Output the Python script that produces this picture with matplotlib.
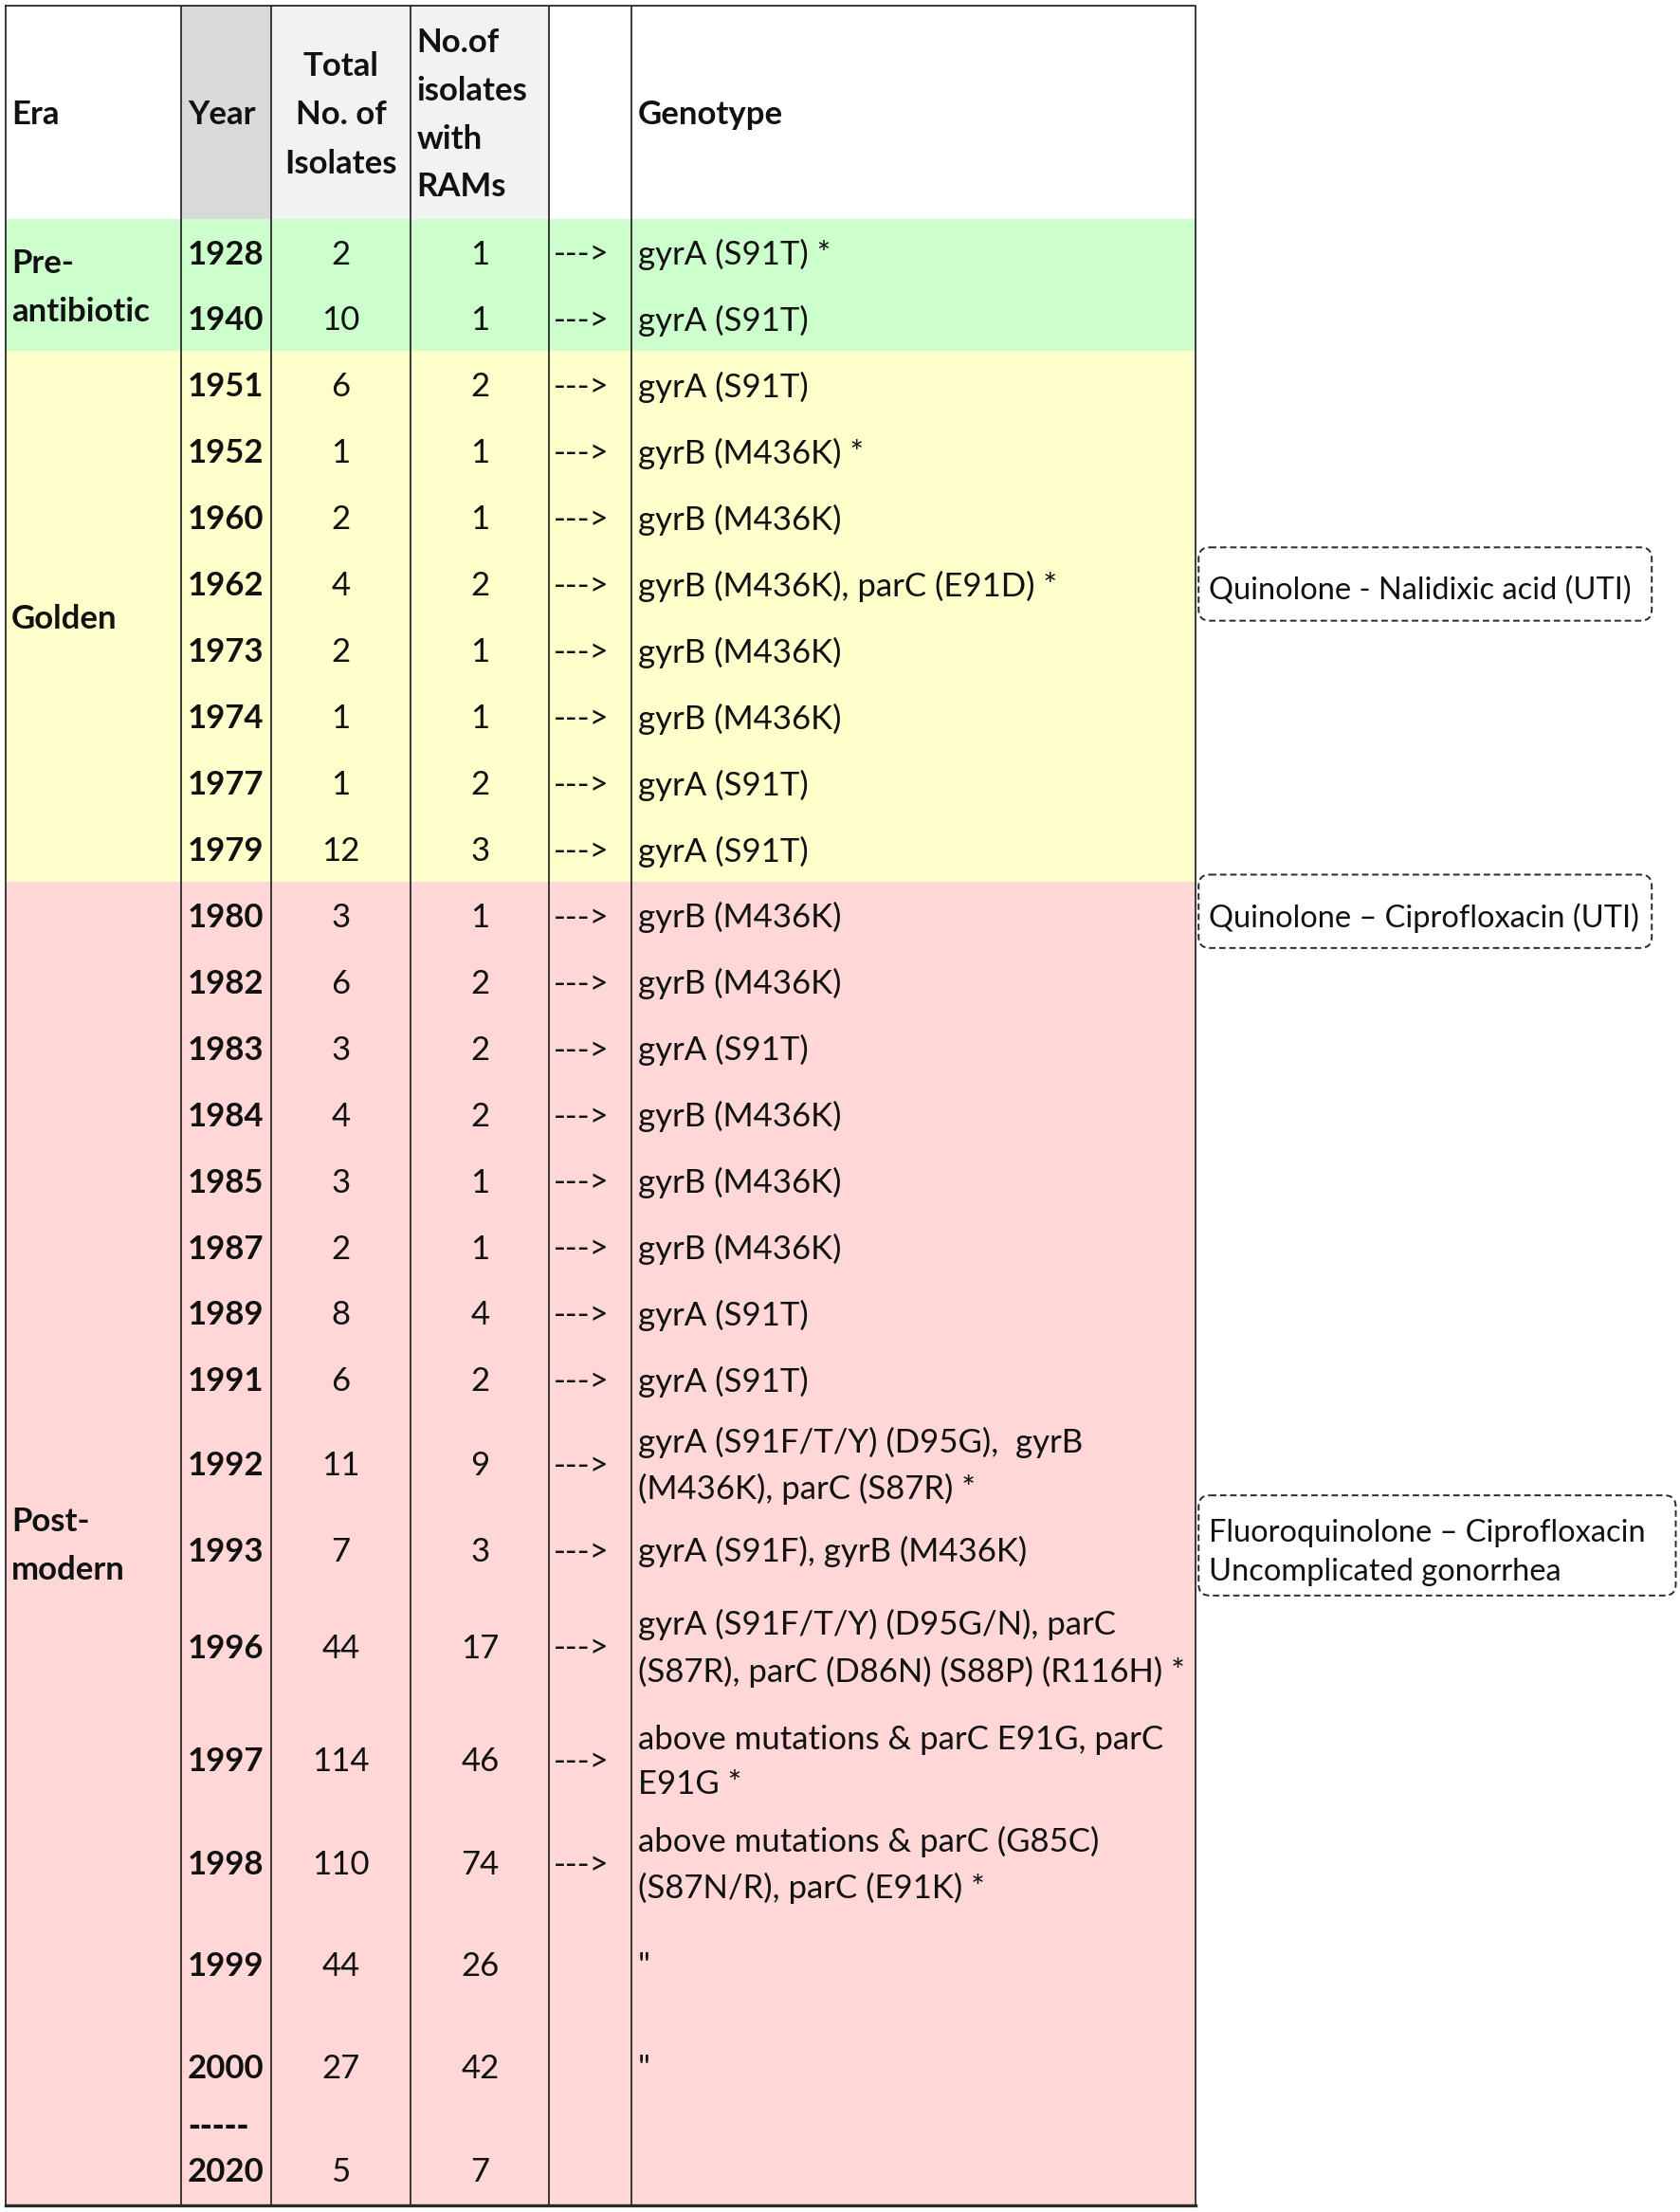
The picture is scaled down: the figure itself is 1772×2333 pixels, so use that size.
import matplotlib
matplotlib.use("Agg")
import matplotlib.pyplot as plt
from matplotlib.patches import Rectangle, FancyBboxPatch

plt.rcParams['font.family'] = ['Lato', 'DejaVu Sans']

# ---------------- data ----------------
era_names = ["Pre-\nantibiotic", "Golden", "Post-\nmodern"]
era_sizes = [2, 8, 16]
era_colors = ["#CCFFCC", "#FFFFCC", "#FFD7D7"]

years = ["1928", "1940", "1951", "1952", "1960", "1962", "1973", "1974", "1977", "1979",
         "1980", "1982", "1983", "1984", "1985", "1987", "1989", "1991", "1992", "1993",
         "1996", "1997", "1998", "1999", "2000", "-----\n2020"]
total_isolates = [2, 10, 6, 1, 2, 4, 2, 1, 1, 12,
                  3, 6, 3, 4, 3, 2, 8, 6, 11, 7,
                  44, 114, 110, 44, 27, 5]
isolates_rams = [1, 1, 2, 1, 1, 2, 1, 1, 2, 3,
                 1, 2, 2, 2, 1, 1, 4, 2, 9, 3,
                 17, 46, 74, 26, 42, 7]
has_arrow = [True] * 23 + [False] * 3
genotypes = [
    "gyrA (S91T) *", "gyrA (S91T)", "gyrA (S91T)", "gyrB (M436K) *", "gyrB (M436K)",
    "gyrB (M436K), parC (E91D) *", "gyrB (M436K)", "gyrB (M436K)", "gyrA (S91T)", "gyrA (S91T)",
    "gyrB (M436K)", "gyrB (M436K)", "gyrA (S91T)", "gyrB (M436K)", "gyrB (M436K)",
    "gyrB (M436K)", "gyrA (S91T)", "gyrA (S91T)",
    "gyrA (S91F/T/Y) (D95G),  gyrB\n(M436K), parC (S87R) *",
    "gyrA (S91F), gyrB (M436K)",
    "gyrA (S91F/T/Y) (D95G/N), parC\n(S87R), parC (D86N) (S88P) (R116H) *",
    "above mutations & parC E91G, parC\nE91G *",
    "above mutations & parC (G85C)\n(S87N/R), parC (E91K) *",
    "\"", "\"", "",
]
headers = ["Era", "Year", "Total\nNo. of\nIsolates", "No.of\nisolates\nwith\nRAMs", "", "Genotype"]
notes = ["Quinolone - Nalidixic acid (UTI)",
         "Quinolone \u2013 Ciprofloxacin (UTI)",
         "Fluoroquinolone \u2013 Ciprofloxacin\nUncomplicated gonorrhea"]

# ---------------- layout (display units, 1190 x 1568 canvas) ----------------
W, H = 1190, 1568
col_x = [4, 128, 192, 291, 389, 447, 847]
top, header_bottom = 4, 155
row_heights = [47] * 18 + [72, 50, 87, 74, 72, 72, 73, 62]
note_boxes = [(849, 388, 321, 52), (849, 620, 321, 52), (849, 1060, 338, 71)]

FS = 25
NFS = 23.5
TXT = "#111111"
LINE = "#2a2a2a"
DY = 2  # small downward nudge of text baseline within cells

fig = plt.figure(figsize=(17.72, 23.33), dpi=100)
ax = fig.add_axes([0, 0, 1, 1])
ax.set_xlim(0, W)
ax.set_ylim(H, 0)
ax.axis("off")

# row edges
edges = [header_bottom]
for h in row_heights:
    edges.append(edges[-1] + h)
bottom = edges[-1]

# era backgrounds
start = 0
era_spans = []
for name, n, c in zip(era_names, era_sizes, era_colors):
    y0, y1 = edges[start], edges[start + n]
    ax.add_patch(Rectangle((col_x[0], y0), col_x[-1] - col_x[0], y1 - y0,
                           facecolor=c, edgecolor="none", zorder=0))
    era_spans.append((y0, y1))
    start += n

# header backgrounds
ax.add_patch(Rectangle((col_x[1], top), col_x[2] - col_x[1], header_bottom - top,
                       facecolor="#D9D9D9", edgecolor="none", zorder=0))
ax.add_patch(Rectangle((col_x[2], top), col_x[4] - col_x[2], header_bottom - top,
                       facecolor="#F2F2F2", edgecolor="none", zorder=0))

# grid lines
for x in col_x[1:-1]:
    ax.plot([x, x], [top, bottom], color=LINE, lw=1.3, zorder=2, solid_capstyle="butt")
ax.plot([col_x[0], col_x[-1], col_x[-1], col_x[0], col_x[0]],
        [top, top, bottom, bottom, top], color=LINE, lw=1.3, zorder=2)
ax.plot([col_x[0], col_x[-1]], [bottom, bottom], color=LINE, lw=2.4, zorder=2)

# headers
hy = (top + header_bottom) / 2 + 2
ax.text(col_x[0] + 4, hy, headers[0], fontsize=FS, fontweight="bold", color=TXT,
        ha="left", va="center")
ax.text(col_x[1] + 5, hy, headers[1], fontsize=FS, fontweight="bold", color=TXT,
        ha="left", va="center")
ax.text((col_x[2] + col_x[3]) / 2, hy, headers[2], fontsize=FS, fontweight="bold", color=TXT,
        ha="center", va="center", linespacing=1.75, multialignment="center")
ax.text(col_x[3] + 4, hy, headers[3], fontsize=FS, fontweight="bold", color=TXT,
        ha="left", va="center", linespacing=1.72)
ax.text(col_x[5] + 5, hy, headers[5], fontsize=FS, fontweight="bold", color=TXT,
        ha="left", va="center")

# era labels
for name, (y0, y1) in zip(era_names, era_spans):
    ax.text(col_x[0] + 4, (y0 + y1) / 2 + DY, name, fontsize=FS, fontweight="bold", color=TXT,
            ha="left", va="center", linespacing=1.72)

# rows
for i, (yr, tot, ram, arr, gen) in enumerate(zip(years, total_isolates, isolates_rams,
                                                  has_arrow, genotypes)):
    y0, y1 = edges[i], edges[i + 1]
    yc = (y0 + y1) / 2 + DY
    if "\n" in yr:
        dash, yv = yr.split("\n")
        ax.text(col_x[1] + 5, yc - 26, dash, fontsize=FS, fontweight="heavy", color=TXT,
                ha="left", va="center")
        yc = yc + 6
        ax.text(col_x[1] + 5, yc, yv, fontsize=FS, fontweight="bold", color=TXT,
                ha="left", va="center")
    else:
        ax.text(col_x[1] + 5, yc, yr, fontsize=FS, fontweight="bold", color=TXT,
                ha="left", va="center")
    ax.text((col_x[2] + col_x[3]) / 2, yc, str(tot), fontsize=FS, color=TXT,
            ha="center", va="center")
    ax.text((col_x[3] + col_x[4]) / 2, yc, str(ram), fontsize=FS, color=TXT,
            ha="center", va="center")
    if arr:
        ax.text(col_x[4] + 3, yc, "--->", fontsize=FS, color=TXT, ha="left", va="center")
    if gen:
        ax.text(col_x[5] + 5, yc, gen, fontsize=FS, color=TXT, ha="left", va="center",
                linespacing=1.6)

# side notes
for (bx, by, bw, bh), note in zip(note_boxes, notes):
    ax.add_patch(FancyBboxPatch((bx, by), bw, bh,
                                boxstyle="round,pad=0,rounding_size=8",
                                facecolor="none", edgecolor=LINE, lw=1.4,
                                linestyle=(0, (3.5, 2)), zorder=3))
    ax.text(bx + 7, by + bh / 2 + 5, note, fontsize=NFS, color=TXT,
            ha="left", va="center", linespacing=1.45)

fig.savefig("out.png", dpi=100, facecolor="white")
